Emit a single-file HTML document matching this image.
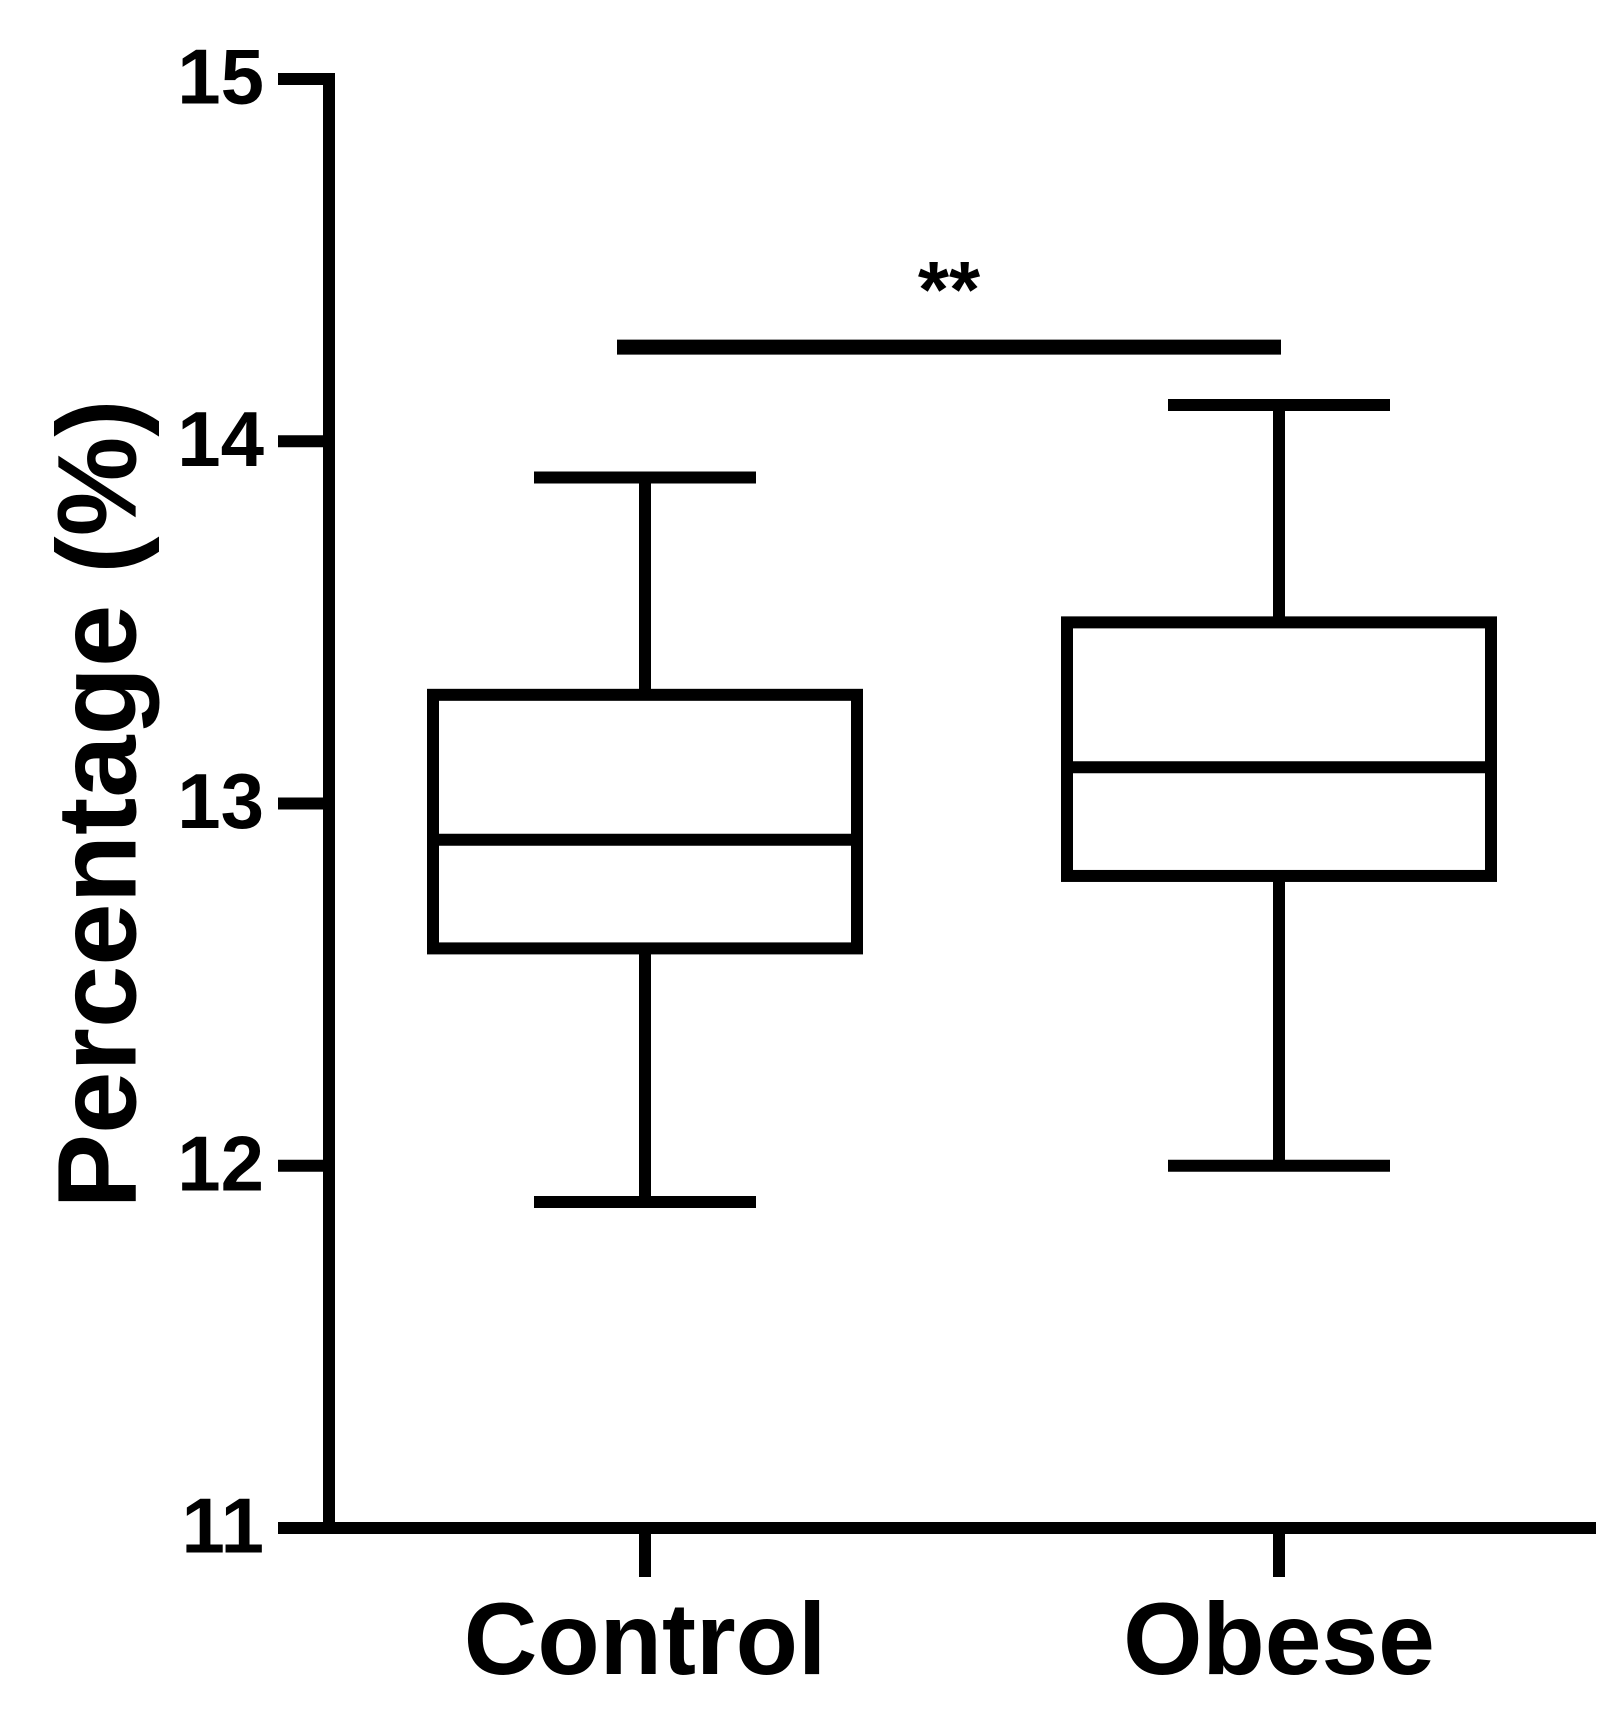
<!DOCTYPE html>
<html><head><meta charset="utf-8"><style>
html,body{margin:0;padding:0;background:#fff;}
svg{display:block;font-family:"Liberation Sans",Arial,sans-serif;font-weight:bold;}
</style></head><body>
<svg id="chart" width="1623" height="1721" viewBox="0 0 1623 1721">
<g id="axes"></g>
<g id="marks"></g>
<text x="106" y="804" font-size="112" text-anchor="middle" dominant-baseline="middle" transform="rotate(-90 106 804)" fill="#000">Percentage (%)</text>
</svg>
<script>
const categories = ["Control", "Obese"];
const mins = [11.9, 12.0];
const q1s = [12.6, 12.8];
const medians = [12.9, 13.1];
const q3s = [13.3, 13.5];
const maxs = [13.9, 14.1];
const yTicks = [11, 12, 13, 14, 15];
const sigLevel = [14.26];
const sigLabel = ["**"];

const NS = "http://www.w3.org/2000/svg";
const y0 = 11, y1 = 15, py0 = 1528, py1 = 79;
function yScale(v){ return py0 + (v - y0) * (py1 - py0) / (y1 - y0); }
const xCenters = [645, 1279];
function xScale(i){ return xCenters[i]; }
const boxHalf = 212, capHalf = 111, lw = 12;
function el(tag, attrs, parent){ const e = document.createElementNS(NS, tag); for (const k in attrs) e.setAttribute(k, attrs[k]); parent.appendChild(e); return e; }
const axes = document.getElementById('axes'), marks = document.getElementById('marks');

const yAxis = el('line', {x1:329, y1:py1-6, x2:329, y2:py0+6, stroke:'#000','stroke-width':lw}, axes);


const xAxis = el('line', {x1:324, y1:py0, x2:1596, y2:py0, stroke:'#000','stroke-width':lw}, axes);



yTicks.forEach(t => {
  const y = yScale(t);
  const tk = el('line', {x1:278, y1:y, x2:329, y2:y, stroke:'#000','stroke-width':lw}, axes);
  
  
  const lb = el('text', {x:264, y:y+4, 'font-size':78, 'text-anchor':'end', 'dominant-baseline':'middle', fill:'#000'}, axes);
  lb.textContent = t;
  
  
});

categories.forEach((c, i) => {
  const x = xScale(i);
  const tk = el('line', {x1:x, y1:py0, x2:x, y2:1577, stroke:'#000','stroke-width':lw}, axes);
  
  
  const lb = el('text', {x:x, y:1674, 'font-size':102, 'text-anchor':'middle', fill:'#000'}, axes);
  lb.textContent = c;
  
  

  const g = el('g', {}, marks);
  
  
  const s = {stroke:'#000','stroke-width':lw, fill:'none'};
  el('line', Object.assign({x1:x, y1:yScale(maxs[i]), x2:x, y2:yScale(q3s[i])}, s), g);
  el('line', Object.assign({x1:x, y1:yScale(q1s[i]), x2:x, y2:yScale(mins[i])}, s), g);
  el('line', Object.assign({x1:x-capHalf, y1:yScale(maxs[i]), x2:x+capHalf, y2:yScale(maxs[i])}, s), g);
  el('line', Object.assign({x1:x-capHalf, y1:yScale(mins[i]), x2:x+capHalf, y2:yScale(mins[i])}, s), g);
  el('rect', Object.assign({x:x-boxHalf, y:yScale(q3s[i]), width:boxHalf*2, height:yScale(q1s[i])-yScale(q3s[i])}, s), g);
  el('line', Object.assign({x1:x-boxHalf, y1:yScale(medians[i]), x2:x+boxHalf, y2:yScale(medians[i])}, s), g);
});

const sy = yScale(sigLevel[0]);
const sb = el('line', {x1:617, y1:sy, x2:1281, y2:sy, stroke:'#000','stroke-width':lw+3}, marks);


const st = el('text', {x:(617+1281)/2, y:sy-30, 'font-size':80, 'text-anchor':'middle', fill:'#000'}, marks);
st.textContent = sigLabel[0];


</script>
</body></html>
